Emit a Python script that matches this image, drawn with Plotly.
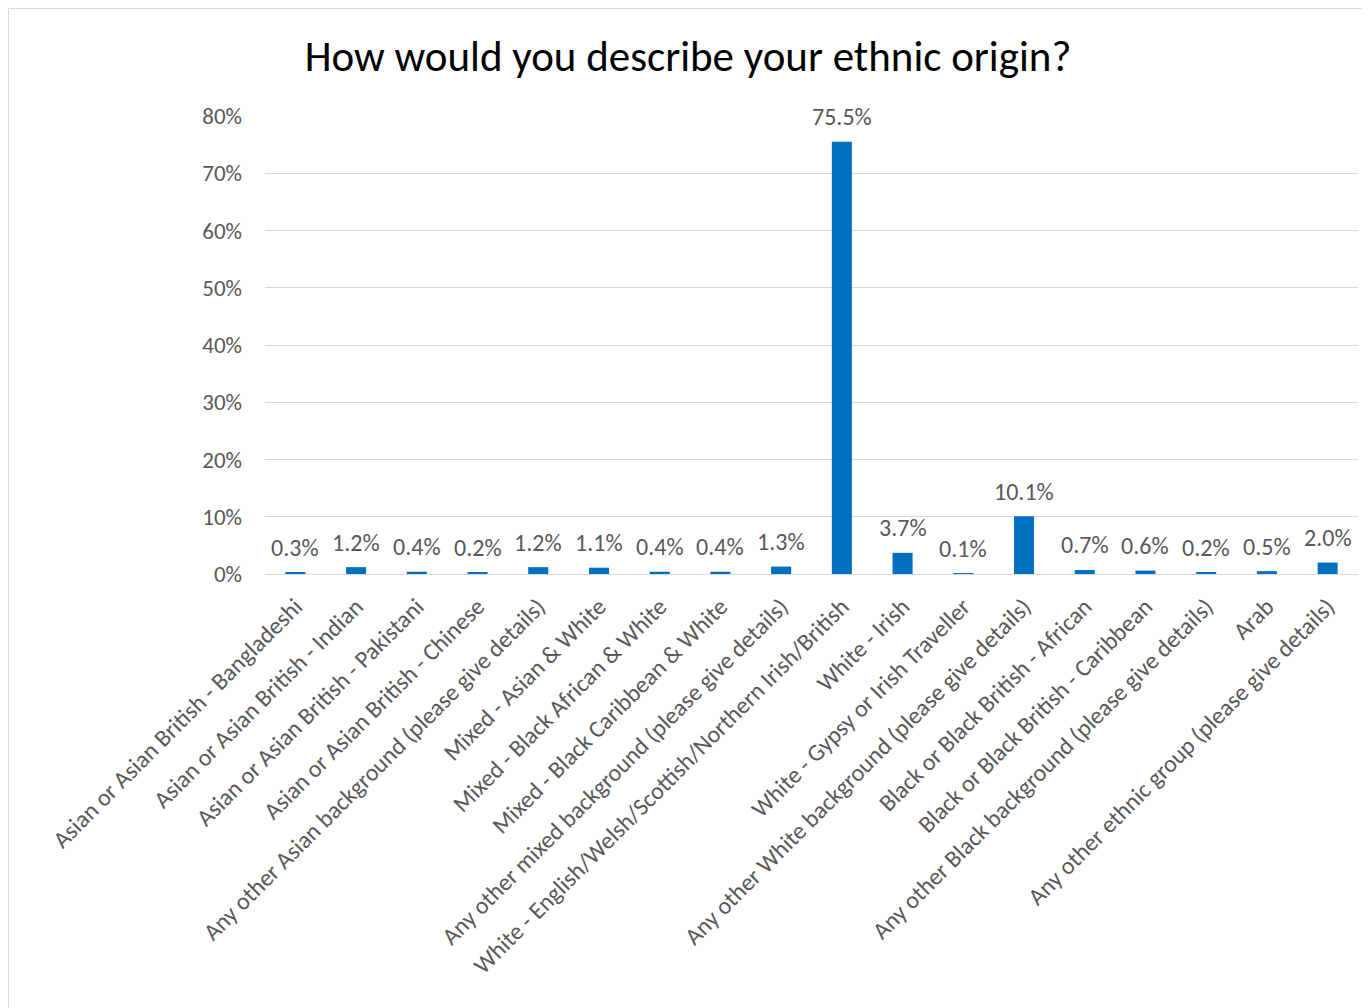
import plotly.graph_objects as go

categories = [
    "Asian or Asian British - Bangladeshi",
    "Asian or Asian British - Indian",
    "Asian or Asian British - Pakistani",
    "Asian or Asian British - Chinese",
    "Any other Asian background (please give details)",
    "Mixed - Asian & White",
    "Mixed - Black African & White",
    "Mixed - Black Caribbean & White",
    "Any other mixed background (please give details)",
    "White - English/Welsh/Scottish/Northern Irish/British",
    "White - Irish",
    "White - Gypsy or Irish Traveller",
    "Any other White background (please give details)",
    "Black or Black British - African",
    "Black or Black British - Caribbean",
    "Any other Black background (please give details)",
    "Arab",
    "Any other ethnic group (please give details)",
]
values = [0.003, 0.012, 0.004, 0.002, 0.012, 0.011, 0.004, 0.004, 0.013,
          0.755, 0.037, 0.001, 0.101, 0.007, 0.006, 0.002, 0.005, 0.020]
labels = ["0.3%", "1.2%", "0.4%", "0.2%", "1.2%", "1.1%", "0.4%", "0.4%", "1.3%",
          "75.5%", "3.7%", "0.1%", "10.1%", "0.7%", "0.6%", "0.2%", "0.5%", "2.0%"]
y_ticks = [0, 0.1, 0.2, 0.3, 0.4, 0.5, 0.6, 0.7, 0.8]
y_tick_labels = ["0%", "10%", "20%", "30%", "40%", "50%", "60%", "70%", "80%"]

FONT = "Calibri, Carlito, Lato, sans-serif"
GREY = "#595959"

fig = go.Figure()
fig.add_trace(go.Bar(
    x=categories, y=values, width=0.33,
    marker=dict(color="#0070C0", line=dict(width=0)),
    hoverinfo="x+y",
))

for c, v, t in zip(categories, values, labels):
    fig.add_annotation(x=c, y=v, text=t, showarrow=False, xref="x", yref="y",
                       yanchor="middle", yshift=25,
                       font=dict(family=FONT, size=24, color=GREY))

fig.add_shape(type="rect", xref="paper", yref="paper",
              x0=-0.2347, x1=1.0092, y0=-1.2, y1=1.2347,
              line=dict(color="#D9D9D9", width=1), layer="below")

fig.update_layout(
    width=1370, height=1008,
    margin=dict(l=257, r=20, t=108, b=442, autoexpand=False),
    paper_bgcolor="white", plot_bgcolor="white",
    title=dict(text="How would you describe your ethnic origin?",
               x=680 / 1370, xref="container", xanchor="center",
               y=1 - 48 / 1008, yref="container", yanchor="middle",
               font=dict(family=FONT, size=43, color="black")),
    showlegend=False,
    font=dict(family=FONT, color=GREY),
)
fig.update_xaxes(
    tickangle=-45, tickfont=dict(family=FONT, size=24, color=GREY),
    showline=True, linecolor="#D9D9D9", linewidth=1,
    ticks="", showgrid=False, ticklabelstandoff=8, automargin=False,
)
fig.update_yaxes(
    range=[0, 0.8], tickvals=y_ticks, ticktext=y_tick_labels,
    tickfont=dict(family=FONT, size=23, color=GREY),
    showgrid=True, gridcolor="#D9D9D9", gridwidth=1, zeroline=False,
    ticks="", showline=False, ticklabelstandoff=22, automargin=False,
)

fig.write_html("out.html")
